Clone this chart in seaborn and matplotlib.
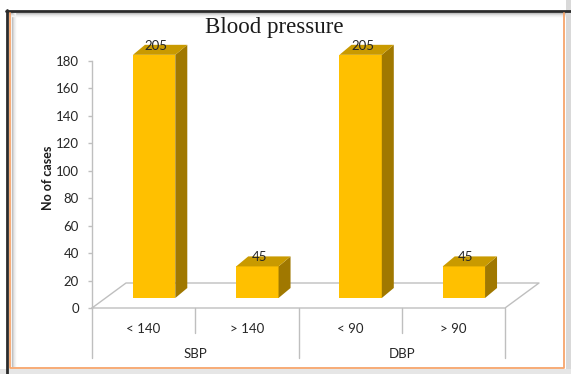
import matplotlib
matplotlib.use("Agg")
import matplotlib.pyplot as plt
import seaborn as sns
import pandas as pd
from matplotlib.patches import Polygon, Rectangle
from matplotlib.lines import Line2D
from matplotlib.transforms import ScaledTranslation, blended_transform_factory, IdentityTransform

# ---- data ----
categories = ["< 140", "> 140", "< 90", "> 90"]
groups = ["SBP", "DBP"]
bar_heights = [177, 23, 177, 23]       # drawn heights on the value axis
data_labels = ["205", "45", "205", "45"]  # printed data labels
y_ticks = [0, 20, 40, 60, 80, 100, 120, 140, 160, 180]

sns.set_theme(style="white")
plt.rcParams["font.family"] = ["Lato", "DejaVu Sans"]

W, H, DPI = 571, 374, 100
fig = plt.figure(figsize=(W / DPI, H / DPI), dpi=DPI)

def fx(x):
    return x / W

def fy(y):
    return 1 - y / H

# axes: front floor edge x 92..505, value 0 at y=308, 180 at y=60.7
AX_H = 308 - 60.7
ax = fig.add_axes([fx(92), fy(308), (505 - 92) / W, AX_H / H])
ax.patch.set_alpha(0)

df = pd.DataFrame({"cat": categories, "val": bar_heights})
front = "#FFC000"
sns.barplot(data=df, x="cat", y="val", color=front, width=0.41,
            saturation=1, ax=ax, zorder=3, linewidth=0, edgecolor="none")
ax.set_ylim(0, 180)
ax.set_xlim(-0.5, 3.5)

gray = "#BFBFBF"
for s in ["top", "right", "bottom"]:
    ax.spines[s].set_visible(False)
ax.spines["left"].set_color(gray)
ax.spines["left"].set_linewidth(1)
ax.set_yticks(y_ticks)
ax.tick_params(axis="y", length=3, width=1, color=gray, pad=6.5,
               labelsize=9.5, labelcolor="#262626", left=True, direction="out")
ax.tick_params(axis="x", length=0, pad=11, labelsize=9.5, labelcolor="#262626")
ax.set_xlabel("")
ax.set_ylabel("")

# 3D depth offsets (pixels)
bdx, bdy = 10.5, 10     # bar front face shift (right, up)
sdx, sdy = 12, 10       # bar depth
fdx, fdy = 34, 25       # floor depth

off = ScaledTranslation(bdx / DPI, bdy / DPI, fig.dpi_scale_trans)
fig.canvas.draw()
ident = IdentityTransform()
side_col = "#A07800"
top_col = "#C99A00"
for p, lab in zip(list(ax.patches), data_labels):
    p.set_transform(ax.transData + off)
    p.set_clip_on(False)
    p.set_linewidth(0)
    x0, x1 = p.get_x(), p.get_x() + p.get_width()
    h = p.get_height()
    (dx0, dy0) = ax.transData.transform((x0, 0))
    (dx1, dyh) = ax.transData.transform((x1, h))
    dx0 += bdx; dx1 += bdx; dy0 += bdy; dyh += bdy
    side = Polygon([(dx1, dy0), (dx1 + sdx, dy0 + sdy), (dx1 + sdx, dyh + sdy), (dx1, dyh)],
                   closed=True, facecolor=side_col, edgecolor="none",
                   transform=ident, zorder=4, clip_on=False)
    top = Polygon([(dx0, dyh), (dx1, dyh), (dx1 + sdx, dyh + sdy), (dx0 + sdx, dyh + sdy)],
                  closed=True, facecolor=top_col, edgecolor="none",
                  transform=ident, zorder=4, clip_on=False)
    ax.add_artist(side)
    ax.add_artist(top)
    ax.annotate(lab, xy=(p.get_x() + p.get_width() / 2, h), xycoords="data",
                xytext=((bdx + 2) * 72 / DPI, (bdy + sdy) * 72 / DPI - 0.5),
                textcoords="offset points", ha="center", va="center",
                fontsize=9.5, color="#262626", zorder=6, annotation_clip=False)

# floor parallelogram
(x_l, y_0) = ax.transData.transform((-0.5, 0))
(x_r, _) = ax.transData.transform((3.5, 0))
floor_pts = [(x_l, y_0), (x_l + fdx, y_0 + fdy), (x_r + fdx, y_0 + fdy), (x_r, y_0), (x_l, y_0)]
xs, ys = zip(*floor_pts)
ax.add_line(Line2D(xs, ys, color=gray, lw=1, transform=ident, zorder=1, clip_on=False))

# category axis separators
bt = blended_transform_factory(ax.transData, ax.transAxes)
for xb, depth in [(-0.5, 50), (0.5, 25), (1.5, 50), (2.5, 25), (3.5, 50)]:
    ax.plot([xb, xb], [0, -depth / AX_H], color=gray, lw=1,
            transform=bt, clip_on=False)
for i, g in enumerate(groups):
    ax.text(0.5 + 2 * i, -46 / AX_H, g, transform=bt, ha="center",
            va="center", fontsize=9.5, color="#262626")

# axis title and chart title
fig.text(fx(48), fy(178), "No of cases", rotation=90, ha="center", va="center",
         fontsize=9, fontweight="bold", color="#1a1a1a")
fig.text(fx(274), fy(27), "Blood pressure", ha="center", va="center",
         fontsize=16.5, family=["Liberation Serif"], color="#1a1a1a")

# frame decorations
fig.add_artist(Rectangle((fx(566), 0), 1 - fx(566), 1, transform=fig.transFigure,
                         facecolor="#D9D9D9", edgecolor="none", zorder=0))
fig.add_artist(Rectangle((0, 0), 1, fy(369), transform=fig.transFigure,
                         facecolor="#E6E6E6", edgecolor="none", zorder=0))
for i, c in enumerate(["#BDBDBD", "#D5D5D5", "#E8E8E8", "#F3F3F3"]):
    fig.add_artist(Line2D([fx(8), fx(566)], [fy(12.5 + i), fy(12.5 + i)], color=c, lw=1,
                          transform=fig.transFigure, zorder=-1))
    fig.add_artist(Line2D([fx(8.5 + i + 3), fx(8.5 + i + 3)], [fy(12), fy(366)], color=c, lw=1,
                          transform=fig.transFigure, zorder=-1))
fig.add_artist(Line2D([fx(6), fx(571)], [fy(11), fy(11)], color="#2b2b2b", lw=2,
                      transform=fig.transFigure, zorder=2))
fig.add_artist(Line2D([fx(7), fx(7)], [fy(10), 0], color="#2b2b2b", lw=2,
                      transform=fig.transFigure, zorder=2))
orange = "#F7A56B"
fig.add_artist(Line2D([fx(10), fx(10), fx(563.5), fx(563.5)],
                      [fy(13), fy(367.5), fy(367.5), fy(13)], color=orange, lw=1.3,
                      transform=fig.transFigure, zorder=2))

fig.savefig("out.png", dpi=DPI)
